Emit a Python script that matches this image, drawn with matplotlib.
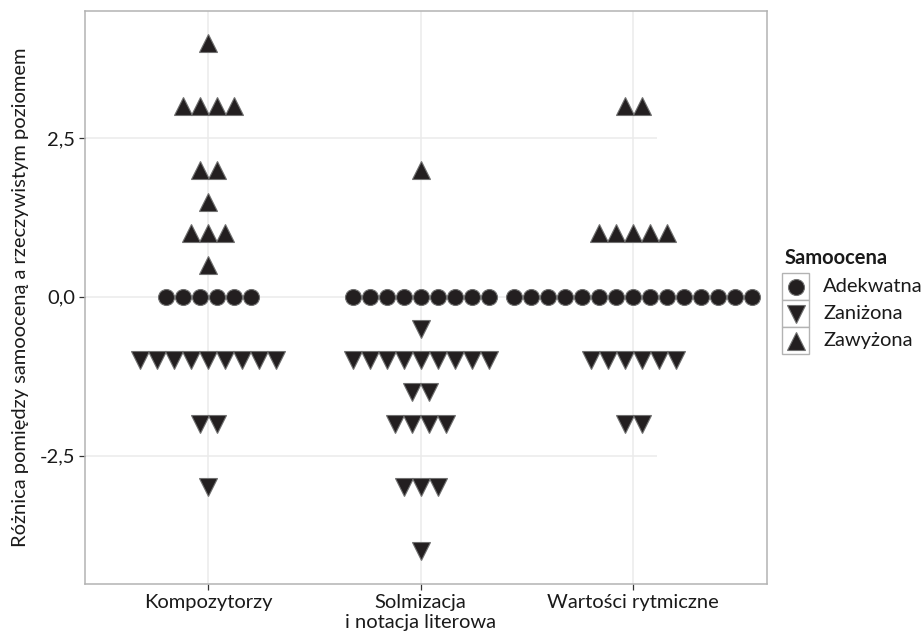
import matplotlib
matplotlib.use('Agg')
from matplotlib import pyplot as plt
from matplotlib.lines import Line2D
from matplotlib.patches import Rectangle

plt.rcParams['font.family'] = ['Lato', 'DejaVu Sans']

categories = ['Kompozytorzy', 'Solmizacja\ni notacja literowa', 'Wartości rytmiczne']

# difference values and how many pupils had each one
komp_values = [4, 3, 2, 1.5, 1, 0.5, 0, -1, -2, -3]
komp_counts = [1, 4, 2, 1, 3, 1, 6, 9, 2, 1]
solm_values = [2, 0, -0.5, -1, -1.5, -2, -3, -4]
solm_counts = [1, 9, 1, 9, 2, 4, 3, 1]
wart_values = [3, 1, 0, -1, -2]
wart_counts = [2, 5, 15, 6, 2]

group_names = ['Adekwatna', 'Zaniżona', 'Zawyżona']
group_markers = {'Adekwatna': 'o', 'Zaniżona': 'v', 'Zawyżona': '^'}
group_sizes = {'Adekwatna': 11.5, 'Zaniżona': 12.5, 'Zawyżona': 12.5}

fill = '#231f20'
edge = '#707070'
dot_step = 0.08


def group_of(value):
    if value > 0:
        return 'Zawyżona'
    if value < 0:
        return 'Zaniżona'
    return 'Adekwatna'


fig = plt.figure(figsize=(9.22, 6.34), dpi=100)
ax = fig.add_axes([85 / 922, 1 - 584 / 634, 682 / 922, 573 / 634])

all_data = [(komp_values, komp_counts), (solm_values, solm_counts), (wart_values, wart_counts)]
for pos, (values, counts) in enumerate(all_data, start=1):
    for v, n in zip(values, counts):
        g = group_of(v)
        xs = [pos + (i - (n - 1) / 2) * dot_step for i in range(n)]
        ax.plot(xs, [v] * n, linestyle='none', marker=group_markers[g],
                markersize=group_sizes[g], markerfacecolor=fill,
                markeredgecolor=edge, markeredgewidth=0.8, zorder=3)

ax.set_xlim(0.42, 3.63)
ax.set_ylim(-4.52, 4.5)

# grid like ggplot's theme_light
for pos in range(1, 4):
    ax.axvline(pos, color='#ebebeb', linewidth=1.1, zorder=0)
ax.hlines([-2.5, 0, 2.5], 0.42, 3.113, color='#ebebeb', linewidth=1.1, zorder=0)

ax.set_xticks([1, 2, 3])
ax.set_xticklabels(categories)
ax.set_yticks([-2.5, 0, 2.5])
ax.set_yticklabels(['-2,5', '0,0', '2,5'])
ax.tick_params(axis='both', length=4, width=0.9, color='#333333',
               labelsize=14.5, labelcolor='#1a1a1a', pad=3)
for s in ax.spines.values():
    s.set_color('#b3b3b3')
    s.set_linewidth(1.1)

ax.set_ylabel('Różnica pomiędzy samooceną a rzeczywistym poziomem',
              fontsize=14.5, color='#1a1a1a', labelpad=8)

# legend drawn by hand to get the boxed keys
fig.text(785 / 922, 1 - 258 / 634, 'Samoocena', fontsize=14.5,
         fontweight='bold', va='center', ha='left', color='#1a1a1a')
box = 27
for i, g in enumerate(group_names):
    top = 273 + i * box
    fig.patches.append(Rectangle((782 / 922, 1 - (top + box) / 634), box / 922, box / 634,
                                 transform=fig.transFigure, facecolor='white',
                                 edgecolor='#b3b3b3', linewidth=1.0))
    cx = (782 + box / 2) / 922
    cy = 1 - (top + box / 2) / 634
    fig.lines.append(Line2D([cx], [cy], transform=fig.transFigure, linestyle='none',
                            marker=group_markers[g], markersize=group_sizes[g],
                            markerfacecolor=fill, markeredgecolor=edge,
                            markeredgewidth=0.8))
    fig.text(823 / 922, cy, g, fontsize=14.5, va='center', ha='left', color='#1a1a1a')

fig.savefig('out.png', dpi=100)
